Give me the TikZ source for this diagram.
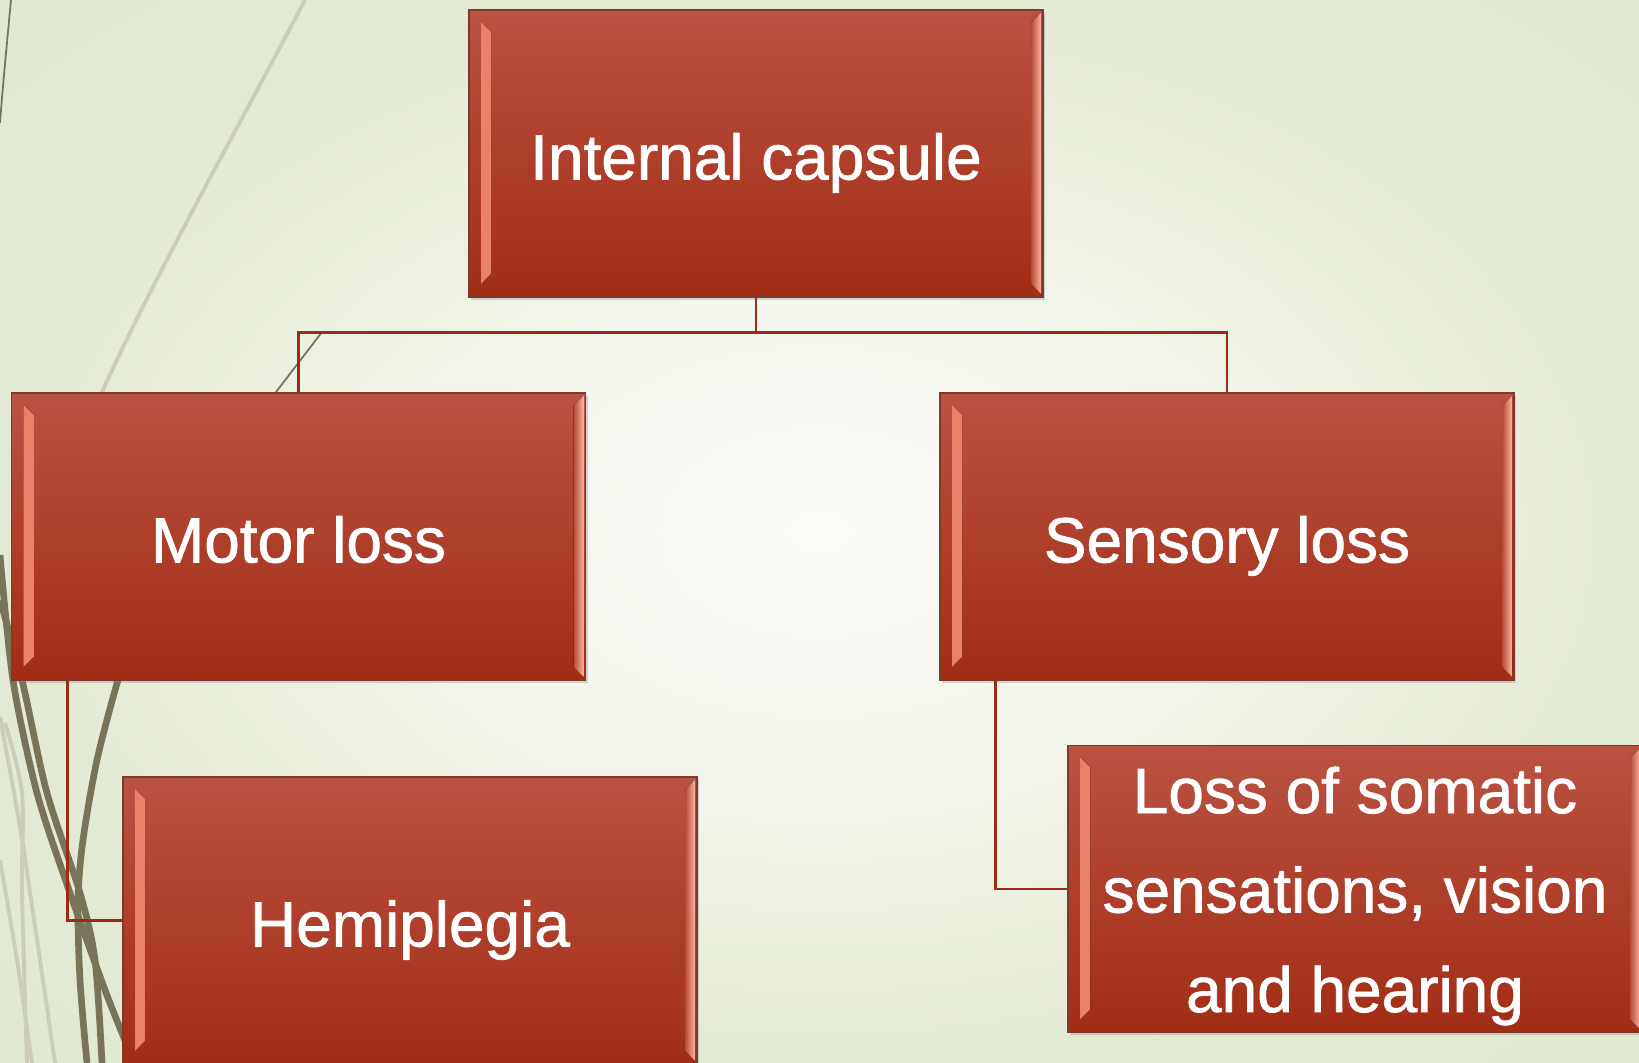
\documentclass[tikz,border=0pt]{standalone}
\usepackage{fontspec}
\setmainfont{Liberation Sans}
\newfontface\boxfont{Liberation Sans}[FakeBold=1.2]
\usetikzlibrary{shadows}

\definecolor{boxtop}{RGB}{186,82,67}
\definecolor{boxbottom}{RGB}{162,45,21}
\definecolor{boxrim}{RGB}{122,58,46}
\definecolor{bevelout}{RGB}{232,128,106}
\definecolor{bevelin}{RGB}{255,170,148}
\definecolor{bevelshade}{RGB}{178,74,58}
\definecolor{bevelhi}{RGB}{255,178,156}
\definecolor{branchred}{RGB}{156,42,20}
\definecolor{wispdark}{RGB}{121,115,88}
\definecolor{wisplight}{RGB}{203,206,180}

\begin{document}
\begin{tikzpicture}
        \pgfdeclareradialshading{paper}{\pgfpointorigin}%
            {rgb(0bp)=(0.985,0.988,0.97);
            rgb(10bp)=(0.96,0.968,0.935); rgb(25bp)=(0.893,0.92,0.83);
            rgb(50bp)=(0.87,0.905,0.8)}
        \tikzstyle{redbox}=[shape=rectangle, minimum width=5.74cm, minimum height=2.87cm, inner sep=0pt,
            top color=boxtop, bottom color=boxbottom, draw=boxrim, line width=0.5pt,
            text=white, align=center, font=\boxfont\fontsize{18.2pt}{28.3pt}\selectfont,
            text height=0.7cm, text depth=0.18cm,
            drop shadow={shadow xshift=0.02cm, shadow yshift=-0.03cm, opacity=0.3},
            path picture={
                \fill [left color=bevelout, right color=bevelin]
                    ([shift={(0.12,-0.12)}]path picture bounding box.north west) -- ++(0.1,-0.1)
                    -- ([shift={(0.22,0.23)}]path picture bounding box.south west) -- ++(-0.1,-0.1) -- cycle;
                \fill [left color=bevelshade, right color=bevelhi]
                    ([shift={(-0.12,-0.13)}]path picture bounding box.north east) -- ++(0.1,0.1)
                    -- ([shift={(-0.02,0.03)}]path picture bounding box.south east) -- ++(-0.1,0.1) -- cycle;
            }]
        \tikzstyle{branch}=[draw=branchred, line width=0.8pt]
        \tikzstyle{wisp}=[draw=wispdark, line width=1.9pt]
        \tikzstyle{thin wisp}=[draw=wispdark, line width=0.5pt]
        \tikzstyle{pale wisp}=[draw=wisplight, line width=1.1pt]

        \useasboundingbox (0,0) rectangle (16.39,10.63);
        \clip (0,0) rectangle (16.39,10.63);
        \shade[shading=paper] (0,0) rectangle (16.39,10.63);

        % swirls on the left
        \draw [style=thin wisp] (0.11,10.63) .. controls (0.07,10.2) and (0.03,9.8) .. (0,9.4);
        \draw [style=pale wisp] (3.05,10.63) .. controls (2.3,9.2) and (1.45,7.7) .. (0.95,6.55);
        \draw [style=thin wisp] (3.22,7.31) -- (2.6,6.5);
        \draw [style=pale wisp] plot [smooth] coordinates {(0,3.46) (0.20,2.36) (0.40,1.03) (0.55,0)};
        \draw [style=pale wisp] plot [smooth] coordinates {(0,2.03) (0.17,1.03) (0.32,0)};
        \draw [style=pale wisp] plot [smooth] coordinates {(0.05,3.4) (0.22,2.7) (0.22,1.7) (0.27,0)};
        \draw [style=wisp] plot [smooth] coordinates {(0,5.08) (0.13,3.83) (0.37,2.70) (0.70,1.70) (1.05,0.73) (1.26,0.2)};
        \draw [style=wisp] plot [smooth] coordinates {(0,4.63) (0.22,3.83) (0.47,2.70) (0.80,1.70) (0.95,1.03) (1.02,0)};
        \draw [style=wisp] plot [smooth] coordinates {(1.26,4.0) (1.18,3.83) (0.97,3.03) (0.83,2.23) (0.78,1.63) (0.80,0.83) (0.87,0)};

        \node [style=redbox] (capsule) at (7.56, 9.095) {Internal capsule};
        \node [style=redbox] (motor) at (2.985, 5.265) {Motor loss};
        \node [style=redbox] (sensory) at (12.27, 5.265) {Sensory loss};
        \node [style=redbox] (hemi) at (4.10, 1.425) {Hemiplegia};
        % last line sits on the baseline here
        \node [style=redbox, text height=2.64cm] (somatic) at (13.55, 1.74) {Loss of somatic\\sensations, vision\\and hearing};

        \draw [style=branch] (capsule.south) -- ++(0,-0.35) -| (motor.north);
        \draw [style=branch] (capsule.south) -- ++(0,-0.35) -| (sensory.north);
        \draw [style=branch] ([xshift=0.565cm]motor.south west) |- (hemi.west);
        \draw [style=branch] ([xshift=0.56cm]sensory.south west) |- (somatic.west);
\end{tikzpicture}
\end{document}
